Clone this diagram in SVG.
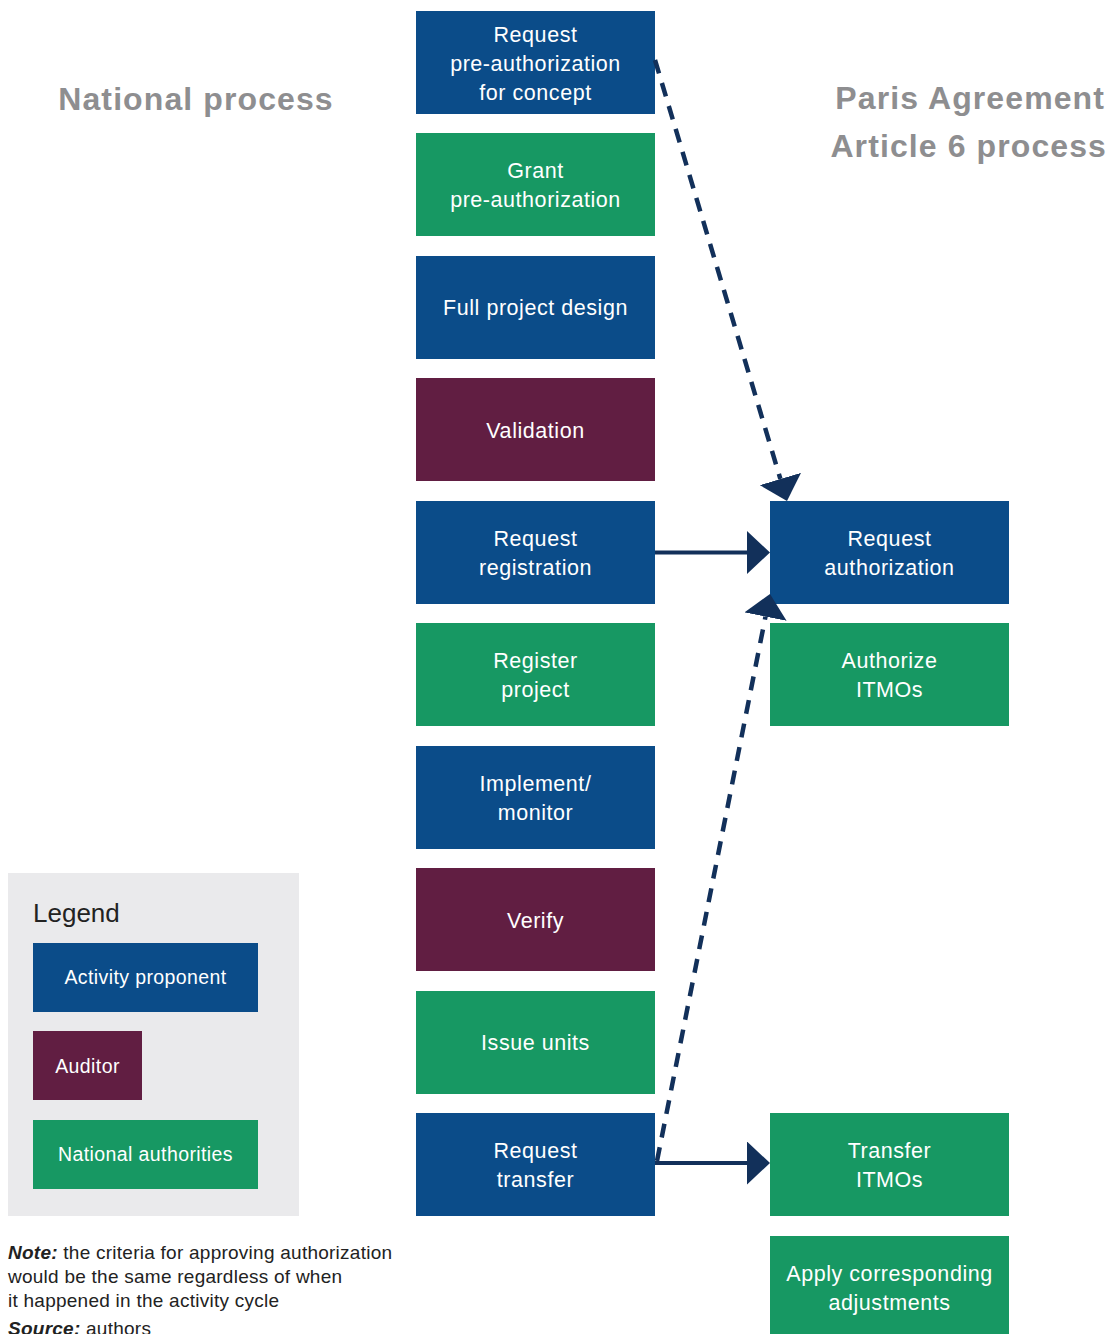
<svg xmlns="http://www.w3.org/2000/svg" width="1111" height="1334" viewBox="0 0 1111 1334">
<defs>
<style>
.b{fill:#0B4C89}.g{fill:#179863}.p{fill:#611E42}
.t{font-family:"Liberation Sans",Arial,sans-serif;font-size:21.5px;letter-spacing:0.55px;fill:#fff;text-anchor:middle}
.lt{font-family:"Liberation Sans",Arial,sans-serif;font-size:19.5px;letter-spacing:0.4px;fill:#fff;text-anchor:middle}
.h{font-family:"Liberation Sans",Arial,sans-serif;font-size:32px;font-weight:bold;letter-spacing:1.1px;fill:#8E8E90}
.n{font-family:"Liberation Sans",Arial,sans-serif;font-size:19px;letter-spacing:0.25px;fill:#222}
.c{fill:none;stroke:#12305A;stroke-width:4}
.d{stroke-dasharray:14 10;stroke-width:4.5}
</style>
<marker id="ah" markerUnits="userSpaceOnUse" markerWidth="23" markerHeight="43" refX="0" refY="21.5" orient="auto" viewBox="0 0 23 43">
<path d="M0,0 L23,21.5 L0,43 z" fill="#12305A"/>
</marker>
</defs>
<rect width="1111" height="1334" fill="#fff"/>

<text class="h" x="196" y="110" text-anchor="middle">National process</text>
<text class="h" x="1105" y="109" text-anchor="end">Paris Agreement</text>
<text class="h" x="1107" y="157" text-anchor="end">Article 6 process</text>

<g id="n1"><rect class="b" x="416" y="11" width="239" height="103"/><text class="t" x="535.5" y="41.5">Request</text><text class="t" x="535.5" y="70.5">pre-authorization</text><text class="t" x="535.5" y="99.5">for concept</text></g>
<g id="n2"><rect class="g" x="416" y="133" width="239" height="103"/><text class="t" x="535.5" y="177.5">Grant</text><text class="t" x="535.5" y="206.5">pre-authorization</text></g>
<g id="n3"><rect class="b" x="416" y="256" width="239" height="103"/><text class="t" x="535.5" y="315">Full project design</text></g>
<g id="n4"><rect class="p" x="416" y="378" width="239" height="103"/><text class="t" x="535.5" y="437.5">Validation</text></g>
<g id="n5"><rect class="b" x="416" y="501" width="239" height="103"/><text class="t" x="535.5" y="545.5">Request</text><text class="t" x="535.5" y="574.5">registration</text></g>
<g id="n6"><rect class="g" x="416" y="623" width="239" height="103"/><text class="t" x="535.5" y="667.5">Register</text><text class="t" x="535.5" y="696.5">project</text></g>
<g id="n7"><rect class="b" x="416" y="746" width="239" height="103"/><text class="t" x="535.5" y="790.5">Implement/</text><text class="t" x="535.5" y="819.5">monitor</text></g>
<g id="n8"><rect class="p" x="416" y="868" width="239" height="103"/><text class="t" x="535.5" y="927.5">Verify</text></g>
<g id="n9"><rect class="g" x="416" y="991" width="239" height="103"/><text class="t" x="535.5" y="1050">Issue units</text></g>
<g id="n10"><rect class="b" x="416" y="1113" width="239" height="103"/><text class="t" x="535.5" y="1158">Request</text><text class="t" x="535.5" y="1187">transfer</text></g>

<g id="r1"><rect class="b" x="770" y="501" width="239" height="103"/><text class="t" x="889.5" y="545.5">Request</text><text class="t" x="889.5" y="574.5">authorization</text></g>
<g id="r2"><rect class="g" x="770" y="623" width="239" height="103"/><text class="t" x="889.5" y="667.5">Authorize</text><text class="t" x="889.5" y="696.5">ITMOs</text></g>
<g id="r3"><rect class="g" x="770" y="1113" width="239" height="103"/><text class="t" x="889.5" y="1158">Transfer</text><text class="t" x="889.5" y="1187">ITMOs</text></g>
<g id="r4"><rect class="g" x="770" y="1236" width="239" height="103"/><text class="t" x="889.5" y="1281">Apply corresponding</text><text class="t" x="889.5" y="1310">adjustments</text></g>

<g id="connectors">
<line class="c d" x1="655" y1="60" x2="780.4" y2="479" marker-end="url(#ah)"/>
<line class="c" x1="655" y1="552.5" x2="747" y2="552.5" marker-end="url(#ah)"/>
<line class="c d" x1="657" y1="1161" x2="765.5" y2="616.6" marker-end="url(#ah)"/>
<line class="c" x1="655" y1="1163" x2="747" y2="1163" marker-end="url(#ah)"/>
</g>

<g id="legend">
<rect x="8" y="873" width="291" height="343" fill="#EAEAEC"/>
<text x="33" y="922" font-family="'Liberation Sans',Arial,sans-serif" font-size="26" fill="#222">Legend</text>
<rect class="b" x="33" y="943" width="225" height="69"/><text class="lt" x="145.5" y="984">Activity proponent</text>
<rect class="p" x="33" y="1031" width="109" height="69"/><text class="lt" x="87.5" y="1073">Auditor</text>
<rect class="g" x="33" y="1120" width="225" height="69"/><text class="lt" x="145.5" y="1161">National authorities</text>
</g>

<text class="n" x="8" y="1259"><tspan font-weight="bold" font-style="italic">Note:</tspan> the criteria for approving authorization</text>
<text class="n" x="8" y="1283">would be the same regardless of when</text>
<text class="n" x="8" y="1307">it happened in the activity cycle</text>
<text class="n" x="8" y="1335"><tspan font-weight="bold" font-style="italic">Source:</tspan> authors</text>
</svg>
